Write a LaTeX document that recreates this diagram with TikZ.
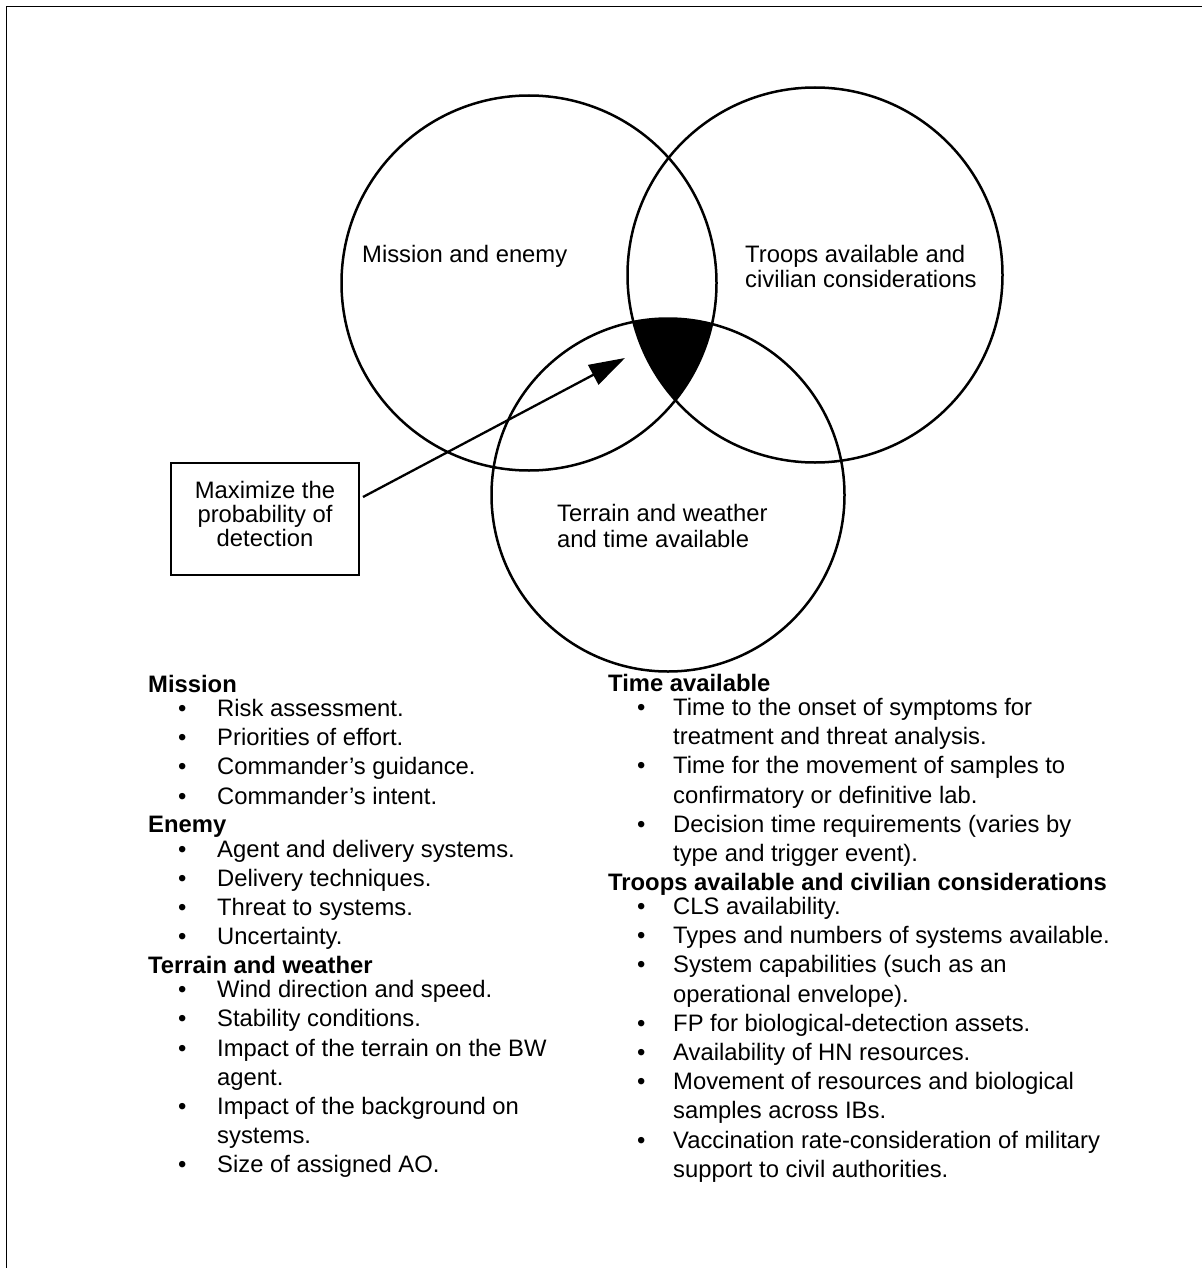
\documentclass[tikz,border=0pt]{standalone}
\usepackage{fontspec}
\setmainfont{Liberation Sans}
\usetikzlibrary{arrows.meta}
\begin{document}
\begin{tikzpicture}[x=1pt,y=-1pt,
  txt/.style={inner sep=0pt, anchor=base west, font=\fontsize{23.8}{29.2}\selectfont},
  hd/.style={txt, font=\fontsize{23.8}{29.2}\selectfont\bfseries},
  ring/.style={draw, circle, line width=2.5pt, inner sep=0pt}]
\useasboundingbox (0,0) rectangle (1202,1268);
\draw[line width=1.6pt] (6.5,1268) -- (6.5,6.5) -- (1202,6.5);

% triple intersection
\begin{scope}
\clip (529,283) circle[radius=187.5pt];
\clip (815,275) circle[radius=187.5pt];
\fill (668,495) circle[radius=176.5pt];
\end{scope}

\node[ring, minimum size=375pt] (C1) at (529,283) {};
\node[ring, minimum size=375pt] (C2) at (815,275) {};
\node[ring, minimum size=353pt] (C3) at (668,495) {};

\node[txt] (t1) at (362,262) {Mission and enemy};
\node[txt] (t2a) at (745,262) {Troops available and};
\node[txt] (t2b) at (745,287) {civilian considerations};
\node[txt] (t3a) at (557,521) {Terrain and weather};
\node[txt] (t3b) at (557,547) {and time available};

\node[draw, line width=2.3pt, minimum width=188pt, minimum height=112pt] (box) at (265,519) {};
\node[align=center, inner sep=0pt, font=\fontsize{23.8}{24}\selectfont] (boxtxt) at (265,514)
  {Maximize the\\probability of\\detection};
\coordinate (as) at (363,497);
\coordinate (tip) at (625,358);
\draw[line width=2.3pt, -{Triangle[length=36pt,width=22pt]}] (as) -- (tip);

% left column
\node[hd] (hM) at (148,692) {Mission};
\node[hd] (hE) at (148,832.6) {Enemy};
\node[hd] (hT) at (148,973.2) {Terrain and weather};
\foreach \y/\b/\t [count=\i] in {
  709.5/1/{Risk assessment.},
  738.7/1/{Priorities of effort.},
  767.9/1/{Commander’s guidance.},
  797.1/1/{Commander’s intent.},
  850.1/1/{Agent and delivery systems.},
  879.3/1/{Delivery techniques.},
  908.5/1/{Threat to systems.},
  937.7/1/{Uncertainty.},
  990.7/1/{Wind direction and speed.},
  1019.9/1/{Stability conditions.},
  1049.1/1/{Impact of the terrain on the BW},
  1078.3/0/{agent.},
  1107.5/1/{Impact of the background on},
  1136.7/0/{systems.},
  1165.9/1/{Size of assigned AO.}}{
  \node[txt] (L\i) at (217,\y+7) {\t};
  \ifnum\b=1 \node[txt] (LB\i) at (178,\y+7) {•};\fi
}

% right column
\node[hd] (hTA) at (608,691) {Time available};
\node[hd] (hTR) at (608,890) {Troops available and civilian considerations};
\foreach \y/\b/\t [count=\i] in {
  708.5/1/{Time to the onset of symptoms for},
  737.7/0/{treatment and threat analysis.},
  766.9/1/{Time for the movement of samples to},
  796.1/0/{confirmatory or definitive lab.},
  825.3/1/{Decision time requirements (varies by},
  854.5/0/{type and trigger event).},
  907.5/1/{CLS availability.},
  936.7/1/{Types and numbers of systems available.},
  965.9/1/{System capabilities (such as an},
  995.1/0/{operational envelope).},
  1024.3/1/{FP for biological-detection assets.},
  1053.5/1/{Availability of HN resources.},
  1082.7/1/{Movement of resources and biological},
  1111.9/0/{samples across IBs.},
  1141.1/1/{Vaccination rate-consideration of military},
  1170.3/0/{support to civil authorities.}}{
  \node[txt] (R\i) at (673,\y+7) {\t};
  \ifnum\b=1 \node[txt] (RB\i) at (637,\y+7) {•};\fi
}
\end{tikzpicture}
\end{document}
